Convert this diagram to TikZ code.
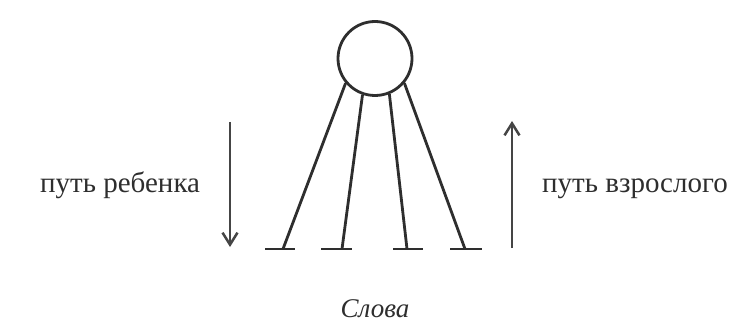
\documentclass[tikz,border=0pt]{standalone}
\usepackage{fontspec}
\setmainfont{Liberation Serif}
\usetikzlibrary{arrows.meta}
\definecolor{ink}{HTML}{2E2E2E}
\definecolor{arrowink}{HTML}{454545}
\tikzset{
  stroke/.style={draw=ink, line width=2.8pt},
  patharrow/.style={draw=arrowink, line width=2.5pt, -{Straight Barb[length=12pt,width=15pt,line width=2.5pt]}},
  label/.style={inner sep=0pt, text=ink, font=\fontsize{29}{32}\selectfont},
}
\begin{document}
\begin{tikzpicture}[x=1pt,y=-1pt]
\useasboundingbox[fill=white] (0,0) rectangle (735,323);
% circle (words)
\node[stroke, circle, minimum size=74pt, inner sep=0pt] (c) at (375,58.5) {};
% foot coordinates
\coordinate (f1) at (283,249);
\coordinate (f2) at (342,249);
\coordinate (f3) at (407,249);
\coordinate (f4) at (465,249);
% bars
\coordinate (b1l) at (265,249); \coordinate (b1r) at (295,249);
\coordinate (b2l) at (321,249); \coordinate (b2r) at (352,249);
\coordinate (b3l) at (393,249); \coordinate (b3r) at (423,249);
\coordinate (b4l) at (450,249); \coordinate (b4r) at (482,249);
\draw[stroke] (c.220) -- (f1);
\draw[stroke] (c.251) -- (f2);
\draw[stroke] (c.292) -- (f3);
\draw[stroke] (c.320) -- (f4);
\draw[stroke] (b1l) -- (b1r);
\draw[stroke] (b2l) -- (b2r);
\draw[stroke] (b3l) -- (b3r);
\draw[stroke] (b4l) -- (b4r);
% arrows
\coordinate (d1) at (230,122);
\coordinate (d2) at (230,247);
\coordinate (u1) at (512,248);
\coordinate (u2) at (512,121);
\draw[patharrow] (d1) -- (d2);
\draw[patharrow] (u1) -- (u2);
% labels
\node[label, anchor=base west] (lchild) at (40,192) {путь ребенка};
\node[label, anchor=base west] (ladult) at (542,192) {путь взрослого};
\node[label, anchor=base, font=\fontsize{27}{30}\selectfont\itshape] (lwords) at (375,317) {Слова};
\end{tikzpicture}
\end{document}
